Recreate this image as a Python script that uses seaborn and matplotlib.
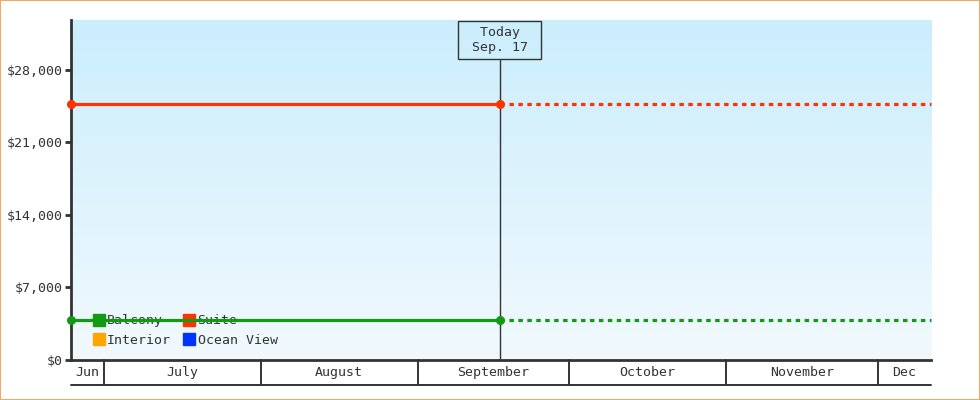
import numpy as np
import pandas as pd
import matplotlib
matplotlib.use("Agg")
import matplotlib.pyplot as plt
import matplotlib.dates as mdates
import seaborn as sns
from matplotlib.patches import Rectangle
from matplotlib.lines import Line2D
from matplotlib.colors import LinearSegmentedColormap

# ---------------- data ----------------
series_names = ["Balcony", "Interior", "Suite", "Ocean View"]
series_colors = ["#129a12", "#ffa500", "#ff3300", "#0033ff"]
history_dates = ["2024-06-24 12:00", "2024-09-17 06:00"]
projection_dates = ["2024-09-17 06:00", "2024-12-11 12:00"]
balcony_values = [3850, 3850]
suite_values = [24700, 24700]
today_date = "2024-09-17 06:00"
today_label = " Today \n Sep. 17 "
month_labels = ["Jun", "July", "August", "September", "October", "November", "Dec"]
month_starts = ["2024-06-01", "2024-07-01", "2024-08-01", "2024-09-01",
                "2024-10-01", "2024-11-01", "2024-12-01", "2025-01-01"]
y_ticks = [0, 7000, 14000, 21000, 28000]
y_max = 32800

# ---------------- style ----------------
sns.set_theme(style="white")
plt.rcParams["font.family"] = ["DejaVu Sans Mono", "DejaVu Sans"]
FS = 9.5
TXT = "#333333"
palette = dict(zip(series_names, series_colors))

def frame(dates, bal, sui):
    d = [pd.Timestamp(x) for x in dates]
    return pd.DataFrame({
        "date": d + d,
        "value": list(bal) + list(sui),
        "series": ["Balcony"] * len(d) + ["Suite"] * len(d),
    })

hist = frame(history_dates, balcony_values, suite_values)
proj = frame(projection_dates, balcony_values, suite_values)

fig = plt.figure(figsize=(9.8, 4.0), dpi=100)
ax = fig.add_axes([71 / 980, 40 / 400, 860 / 980, 340 / 400])

x0 = mdates.date2num(pd.Timestamp(history_dates[0]))
x1 = mdates.date2num(pd.Timestamp(projection_dates[-1]))

# gradient background
cmap = LinearSegmentedColormap.from_list("bg", ["#cbeefc", "#f1f9fe"])
ax.imshow(np.linspace(0, 1, 256).reshape(-1, 1), cmap=cmap, aspect="auto",
          extent=[0, 1, 0, 1], transform=ax.transAxes, zorder=0)

sns.lineplot(data=hist, x="date", y="value", hue="series", palette=palette,
             marker="o", markersize=6.5, markeredgewidth=0, linewidth=2.3,
             legend=False, ax=ax, zorder=3, clip_on=False)
sns.lineplot(data=proj, x="date", y="value", hue="series", palette=palette,
             linewidth=2.3, linestyle=(0, (1.4, 1.4)),
             legend=False, ax=ax, zorder=3, clip_on=False)

ax.set_xlim(x0, x1)
ax.set_ylim(0, y_max)

# today line + box
t = mdates.date2num(pd.Timestamp(today_date))
box_bottom = 300 / 340
ax.plot([t, t], [0, box_bottom], transform=ax.get_xaxis_transform(),
        color=TXT, lw=1, zorder=2.6, clip_on=False)
ax.text(t, 320 / 340, today_label, transform=ax.get_xaxis_transform(),
        ha="center", va="center", multialignment="center", fontsize=FS,
        color=TXT, linespacing=1.15, zorder=4,
        bbox=dict(boxstyle="square,pad=0.4", fc="none", ec=TXT, lw=1))

# y axis
ax.set_yticks(y_ticks)
ax.set_yticklabels([f"${v:,.0f}" for v in y_ticks], fontsize=FS, color=TXT)
ax.tick_params(axis="y", length=4, width=2, color=TXT, pad=2, left=True)
ax.set_xticks([])
ax.set_xlabel("")
ax.set_ylabel("")
for s in ["top", "right"]:
    ax.spines[s].set_visible(False)
for s in ["left", "bottom"]:
    ax.spines[s].set_color(TXT)
    ax.spines[s].set_linewidth(2)

# month band below the axis
band = -25 / 340
xt = ax.get_xaxis_transform()
ms = [mdates.date2num(pd.Timestamp(m)) for m in month_starts]
for i, lab in enumerate(month_labels):
    a, b = max(ms[i], x0), min(ms[i + 1], x1)
    ax.text((a + b) / 2, band / 2, lab, transform=xt, ha="center", va="center",
            fontsize=FS, color=TXT, clip_on=False)
    if x0 < ms[i] < x1:
        ax.plot([ms[i], ms[i]], [0, band], transform=xt, color=TXT, lw=1.4,
                clip_on=False)
ax.plot([x0, x1], [band, band], transform=xt, color=TXT, lw=1.4, clip_on=False)

# legend
handles = [Line2D([], [], marker="s", linestyle="none", color=c, markersize=8)
           for c in series_colors]
leg = ax.legend(handles, series_names, ncol=2, loc="lower left",
                bbox_to_anchor=(0.026, 0.039), frameon=False, fontsize=FS,
                handlelength=0.8, handletextpad=0.25, columnspacing=0.95,
                labelspacing=0.5, borderpad=0, borderaxespad=0)
for txt in leg.get_texts():
    txt.set_color(TXT)
leg.set_zorder(2.5)

# outer border
fig.add_artist(Rectangle((0, 0), 1, 1, transform=fig.transFigure, fill=False,
                         edgecolor="#f0ab66", lw=1.5))

fig.savefig("out.png", dpi=100)
